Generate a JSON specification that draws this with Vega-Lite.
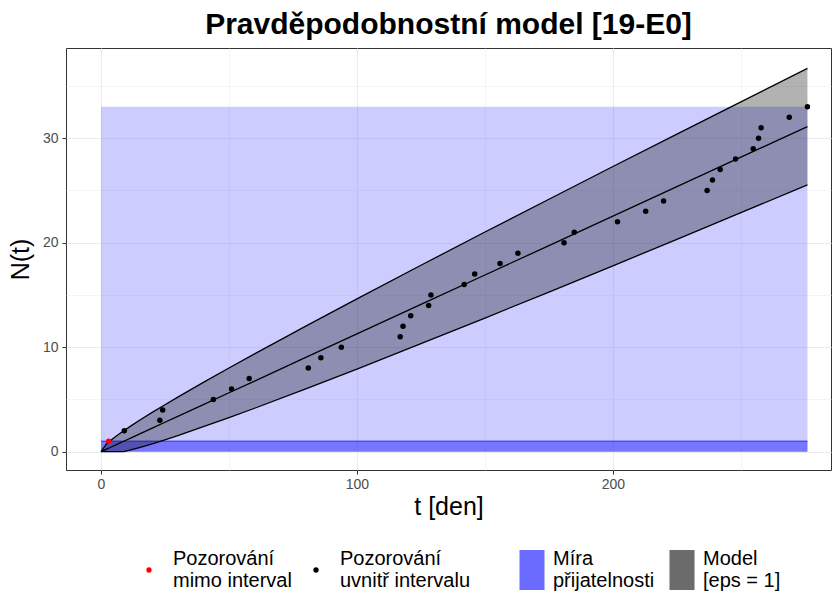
{
  "$schema": "https://vega.github.io/schema/vega-lite/v6.json",
  "width": 765,
  "height": 422,
  "autosize": {"type": "none"},
  "padding": {"left": 66, "top": 48, "right": 1, "bottom": 125},
  "background": "white",
  "title": {
    "text": "Pravděpodobnostní model [19-E0]",
    "font": "Liberation Sans",
    "fontSize": 30,
    "fontWeight": "bold",
    "color": "black",
    "anchor": "middle",
    "offset": 8
  },
  "config": {
    "font": "Liberation Sans",
    "view": {"stroke": "#333333", "strokeWidth": 1},
    "axis": {
      "gridColor": "#EBEBEB",
      "tickColor": "#333333",
      "tickSize": 4,
      "labelColor": "#4D4D4D",
      "labelFontSize": 14,
      "labelFont": "Liberation Sans",
      "titleFont": "Liberation Sans",
      "titleFontSize": 25,
      "titleFontWeight": "normal",
      "titleColor": "black",
      "domain": false
    },
    "legend": {
      "labelFont": "Liberation Sans",
      "labelFontSize": 20,
      "labelColor": "black",
      "padding": 0
    }
  },
  "datasets": {
    "pozorovani": [
      {"t": 3.0, "n": 1, "stav": "mimo"},
      {"t": 9.1, "n": 2, "stav": "uvnitr"},
      {"t": 23.0, "n": 3, "stav": "uvnitr"},
      {"t": 24.1, "n": 4, "stav": "uvnitr"},
      {"t": 43.9, "n": 5, "stav": "uvnitr"},
      {"t": 51.0, "n": 6, "stav": "uvnitr"},
      {"t": 57.9, "n": 7, "stav": "uvnitr"},
      {"t": 81.0, "n": 8, "stav": "uvnitr"},
      {"t": 85.9, "n": 9, "stav": "uvnitr"},
      {"t": 93.9, "n": 10, "stav": "uvnitr"},
      {"t": 116.9, "n": 11, "stav": "uvnitr"},
      {"t": 118.0, "n": 12, "stav": "uvnitr"},
      {"t": 121.0, "n": 13, "stav": "uvnitr"},
      {"t": 128.0, "n": 14, "stav": "uvnitr"},
      {"t": 128.9, "n": 15, "stav": "uvnitr"},
      {"t": 141.9, "n": 16, "stav": "uvnitr"},
      {"t": 146.0, "n": 17, "stav": "uvnitr"},
      {"t": 155.9, "n": 18, "stav": "uvnitr"},
      {"t": 162.9, "n": 19, "stav": "uvnitr"},
      {"t": 180.9, "n": 20, "stav": "uvnitr"},
      {"t": 184.9, "n": 21, "stav": "uvnitr"},
      {"t": 201.8, "n": 22, "stav": "uvnitr"},
      {"t": 212.8, "n": 23, "stav": "uvnitr"},
      {"t": 219.8, "n": 24, "stav": "uvnitr"},
      {"t": 236.8, "n": 25, "stav": "uvnitr"},
      {"t": 238.9, "n": 26, "stav": "uvnitr"},
      {"t": 241.9, "n": 27, "stav": "uvnitr"},
      {"t": 247.9, "n": 28, "stav": "uvnitr"},
      {"t": 254.8, "n": 29, "stav": "uvnitr"},
      {"t": 256.9, "n": 30, "stav": "uvnitr"},
      {"t": 257.9, "n": 31, "stav": "uvnitr"},
      {"t": 268.9, "n": 32, "stav": "uvnitr"},
      {"t": 276.0, "n": 33, "stav": "uvnitr"}
    ],
    "model": [
      {"t": 0, "dolni": 0, "stred": 0, "horni": 0},
      {"t": 2, "dolni": 0, "stred": 0.23, "horni": 0.70},
      {"t": 4, "dolni": 0, "stred": 0.45, "horni": 1.12},
      {"t": 6, "dolni": 0, "stred": 0.68, "horni": 1.50},
      {"t": 8.9, "dolni": 0, "stred": 1.00, "horni": 2.00},
      {"t": 12, "dolni": 0.19, "stred": 1.35, "horni": 2.52},
      {"t": 16, "dolni": 0.46, "stred": 1.80, "horni": 3.15},
      {"t": 20, "dolni": 0.75, "stred": 2.25, "horni": 3.76},
      {"t": 25, "dolni": 1.14, "stred": 2.82, "horni": 4.50},
      {"t": 30, "dolni": 1.54, "stred": 3.38, "horni": 5.22},
      {"t": 40, "dolni": 2.39, "stred": 4.51, "horni": 6.63},
      {"t": 50, "dolni": 3.26, "stred": 5.64, "horni": 8.01},
      {"t": 60, "dolni": 4.16, "stred": 6.76, "horni": 9.36},
      {"t": 80, "dolni": 6.01, "stred": 9.02, "horni": 12.02},
      {"t": 100, "dolni": 7.91, "stred": 11.27, "horni": 14.63},
      {"t": 125, "dolni": 10.34, "stred": 14.09, "horni": 17.84},
      {"t": 150, "dolni": 12.79, "stred": 16.91, "horni": 21.02},
      {"t": 175, "dolni": 15.28, "stred": 19.72, "horni": 24.16},
      {"t": 200, "dolni": 17.79, "stred": 22.54, "horni": 27.29},
      {"t": 225, "dolni": 20.32, "stred": 25.36, "horni": 30.39},
      {"t": 250, "dolni": 22.87, "stred": 28.18, "horni": 33.48},
      {"t": 276, "dolni": 25.53, "stred": 31.11, "horni": 36.68}
    ],
    "mira": [{"t0": 0, "t1": 276, "n0": 0, "n1": 33}],
    "pas": [{"t0": 0, "t1": 276, "n0": 0, "n1": 1}]
  },
  "layer": [
    {
      "data": {"name": "mira"},
      "mark": {"type": "rect", "fillOpacity": 0.345},
      "encoding": {
        "x": {
          "field": "t0",
          "type": "quantitative",
          "scale": {"domain": [-13.67, 285.2], "nice": false, "zero": false},
          "axis": {
            "title": "t [den]",
            "titlePadding": 3,
            "labelPadding": 3,
            "values": [0, 50, 100, 150, 200, 250],
            "labelExpr": "datum.value % 100 === 0 ? datum.label : ''",
            "gridWidth": {"condition": {"test": "datum.value % 100 === 0", "value": 1.1}, "value": 0.55},
            "tickOpacity": {"condition": {"test": "datum.value % 100 === 0", "value": 1}, "value": 0}
          }
        },
        "x2": {"field": "t1"},
        "y": {
          "field": "n0",
          "type": "quantitative",
          "scale": {"domain": [-1.75, 38.63], "nice": false, "zero": false},
          "axis": {
            "title": "N(t)",
            "titlePadding": 9,
            "labelPadding": 4,
            "values": [0, 5, 10, 15, 20, 25, 30, 35],
            "labelExpr": "datum.value % 10 === 0 ? datum.label : ''",
            "gridWidth": {"condition": {"test": "datum.value % 10 === 0", "value": 1.1}, "value": 0.55},
            "tickOpacity": {"condition": {"test": "datum.value % 10 === 0", "value": 1}, "value": 0}
          }
        },
        "y2": {"field": "n1"},
        "fill": {
          "datum": "mira",
          "type": "nominal",
          "scale": {"domain": ["mira", "model"], "range": ["#6B6BFF", "#6B6B6B"]},
          "legend": {
            "orient": "none",
            "legendX": 446,
            "legendY": 502,
            "direction": "horizontal",
            "columns": 2,
            "title": null,
            "symbolType": "M-0.625,-1L0.625,-1L0.625,1L-0.625,1Z",
            "symbolSize": 1600,
            "symbolOpacity": 1,
            "symbolStrokeWidth": 0,
            "labelOffset": 1,
            "columnPadding": 7,
            "labelBaseline": "line-bottom",
            "labelExpr": "datum.value === 'mira' ? ['Míra', 'přijatelnosti'] : ['Model', '[eps = 1]']",
            "encode": {"labels": {"lineHeight": {"value": 23}}}
          }
        }
      }
    },
    {
      "data": {"name": "pas"},
      "mark": {"type": "rect", "fill": "#0000FF", "fillOpacity": 0.42},
      "encoding": {
        "x": {"field": "t0", "type": "quantitative"},
        "x2": {"field": "t1"},
        "y": {"field": "n0", "type": "quantitative"},
        "y2": {"field": "n1"}
      }
    },
    {
      "data": {"name": "pas"},
      "mark": {"type": "rule", "stroke": "#3C3CFF", "strokeWidth": 1.5, "opacity": 0.8},
      "encoding": {
        "x": {"field": "t0", "type": "quantitative"},
        "x2": {"field": "t1"},
        "y": {"field": "n1", "type": "quantitative"}
      }
    },
    {
      "data": {"name": "model"},
      "mark": {"type": "area", "fill": "#000000", "fillOpacity": 0.3},
      "encoding": {
        "x": {"field": "t", "type": "quantitative"},
        "y": {"field": "horni", "type": "quantitative"},
        "y2": {"field": "dolni"}
      }
    },
    {
      "data": {"name": "model"},
      "mark": {"type": "line", "stroke": "#000000", "strokeWidth": 1.3},
      "encoding": {
        "x": {"field": "t", "type": "quantitative"},
        "y": {"field": "horni", "type": "quantitative"}
      }
    },
    {
      "data": {"name": "model"},
      "mark": {"type": "line", "stroke": "#000000", "strokeWidth": 1.3},
      "encoding": {
        "x": {"field": "t", "type": "quantitative"},
        "y": {"field": "stred", "type": "quantitative"}
      }
    },
    {
      "data": {"name": "model"},
      "mark": {"type": "line", "stroke": "#000000", "strokeWidth": 1.3},
      "encoding": {
        "x": {"field": "t", "type": "quantitative"},
        "y": {"field": "dolni", "type": "quantitative"}
      }
    },
    {
      "data": {"name": "pozorovani"},
      "mark": {"type": "point", "filled": true, "opacity": 1, "size": 30, "shape": "circle"},
      "encoding": {
        "x": {"field": "t", "type": "quantitative"},
        "y": {"field": "n", "type": "quantitative"},
        "color": {
          "field": "stav",
          "type": "nominal",
          "scale": {"domain": ["mimo", "uvnitr"], "range": ["#FF0000", "#000000"]},
          "legend": {
            "orient": "none",
            "legendX": 73,
            "legendY": 512,
            "direction": "horizontal",
            "columns": 2,
            "title": null,
            "symbolType": "circle",
            "symbolSize": 28,
            "symbolOpacity": 1,
            "symbolStrokeWidth": 0,
            "labelOffset": 14,
            "columnPadding": 14,
            "labelBaseline": "line-bottom",
            "labelExpr": "datum.value === 'mimo' ? ['Pozorování', 'mimo interval'] : ['Pozorování', 'uvnitř intervalu']",
            "encode": {"labels": {"lineHeight": {"value": 23}}}
          }
        }
      }
    }
  ]
}
